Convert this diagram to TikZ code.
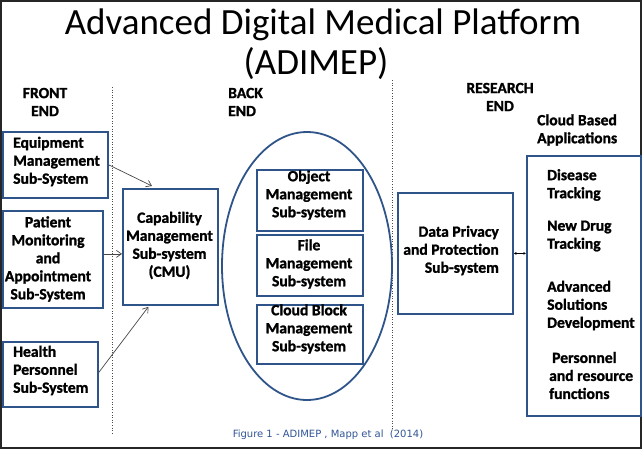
\documentclass[tikz,border=0pt]{standalone}
\usepackage{fontspec}
\setmainfont{Carlito}[BoldFont={Carlito Bold}, BoldFeatures={FakeBold=1.4}]
\newfontfamily\capfont{DejaVu Sans}
\usetikzlibrary{shapes.geometric,arrows.meta,calc}
\definecolor{boxblue}{RGB}{46,84,137}
\definecolor{capblue}{RGB}{47,84,150}
\definecolor{arrgray}{RGB}{70,70,70}
\tikzset{
  box/.style={draw=boxblue, line width=1.8pt, rectangle, inner sep=0pt, anchor=north west},
  lbl/.style={font=\bfseries\fontsize{15.6}{18}\selectfont, inner sep=0pt},
  hdr/.style={font=\bfseries\fontsize{15.6}{18}\selectfont, inner sep=0pt},
  arr/.style={draw=arrgray, line width=0.7pt, -{Straight Barb[length=5pt,width=7pt]}},
  divider/.style={draw=black!70, dotted, line width=0.6pt},
}
\begin{document}
\begin{tikzpicture}[x=1pt,y=-1pt]
\useasboundingbox (0,0) rectangle (643,450);
\draw[line width=1.5pt, draw=black!85] (1,1) rectangle (641,448);

% title
\node[font=\fontsize{37}{44}\selectfont, inner sep=0pt] (title1) at (323,25) {Advanced Digital Medical Platform};
\node[font=\fontsize{37}{44}\selectfont, inner sep=0pt] (title2) at (316,64) {(ADIMEP)};

% headers
\node[hdr, align=center] (front) at (45,102) {FRONT\\END};
\node[hdr, align=left, anchor=west] (back) at (228,102) {BACK\\END};
\node[hdr, align=center] (research) at (500,97) {RESEARCH\\END};
\node[hdr, align=left, anchor=west] (cloudhdr) at (537,130) {Cloud Based\\Applications};

% dividers
\coordinate (d1t) at (112,87); \coordinate (d1b) at (112,435);
\coordinate (d2t) at (392,80); \coordinate (d2b) at (392,430);
\draw[divider] (d1t) -- (d1b);
\draw[divider] (d2t) -- (d2b);

% front end boxes
\node[box, minimum width=105, minimum height=66] (eq) at (2,131) {};
\node[lbl, align=left, anchor=west] (eqt) at (13,161.5) {Equipment\\Management\\Sub-System};

\node[box, minimum width=100, minimum height=97] (pat) at (2,210) {};
\node[lbl, align=center] (patt) at (48,259) {Patient\\Monitoring\\and\\Appointment\\Sub-System};

\node[box, minimum width=95, minimum height=65] (hp) at (2,341) {};
\node[lbl, align=left, anchor=west] (hpt) at (13,370.5) {Health\\Personnel\\Sub-System};

% CMU
\node[box, minimum width=95, minimum height=116] (cmu) at (122,188) {};
\node[lbl, align=center] (cmut) at (169.5,245.5) {Capability\\Management\\Sub-system\\(CMU)};

% back end ellipse
\node[draw=boxblue, line width=1.8pt, ellipse, minimum width=170, minimum height=268, inner sep=0pt] (ell) at (307,266) {};

\node[box, minimum width=106, minimum height=61] (obj) at (256,169) {};
\node[lbl, align=center] (objt) at (309,195) {Object\\Management\\Sub-system};

\node[box, minimum width=106, minimum height=61] (file) at (256,234) {};
\node[lbl, align=center] (filet) at (309,264) {File\\Management\\Sub-system};

\node[box, minimum width=106, minimum height=59] (cb) at (256,304) {};
\node[lbl, align=center] (cbt) at (309,329) {Cloud Block\\Management\\Sub-system};

% research end
\node[box, minimum width=115, minimum height=121] (dp) at (397,192) {};
\node[lbl, align=right, anchor=east] (dpt) at (499,250.5) {Data Privacy\\and Protection\\Sub-system};

\node[box, minimum width=114, minimum height=260] (cl) at (526,155) {};
\node[lbl, align=left, anchor=west] (c1) at (547,185) {Disease\\Tracking};
\node[lbl, align=left, anchor=west] (c2) at (547,236) {New Drug\\Tracking};
\node[lbl, align=left, anchor=west] (c3) at (547,305.5) {Advanced\\Solutions\\Development};
\node[lbl, align=left, anchor=west] (c4) at (549,375.5) {\hspace{3pt}Personnel\\and resource\\functions};

% connectors
\draw[arr] (eq.east) -- ([xshift=30,yshift=2]cmu.north west);
\draw[arr] ([yshift=5.5]pat.east) -- ([yshift=-7]cmu.west);
\draw[arr] ([yshift=2]hp.east) -- ([xshift=-22,yshift=-1]cmu.south);
\draw[line width=0.6pt, {Latex[length=2.5pt,width=3pt]}-{Latex[length=2.5pt,width=3pt]}] (dp.east) -- (dp.east -| cl.west);

% caption
\node[font=\capfont\fontsize{10}{12}\selectfont, text=capblue, inner sep=0pt] (cap) at (328,435) {Figure 1 - ADIMEP , Mapp et al\ \ (2014)};
\end{tikzpicture}
\end{document}
